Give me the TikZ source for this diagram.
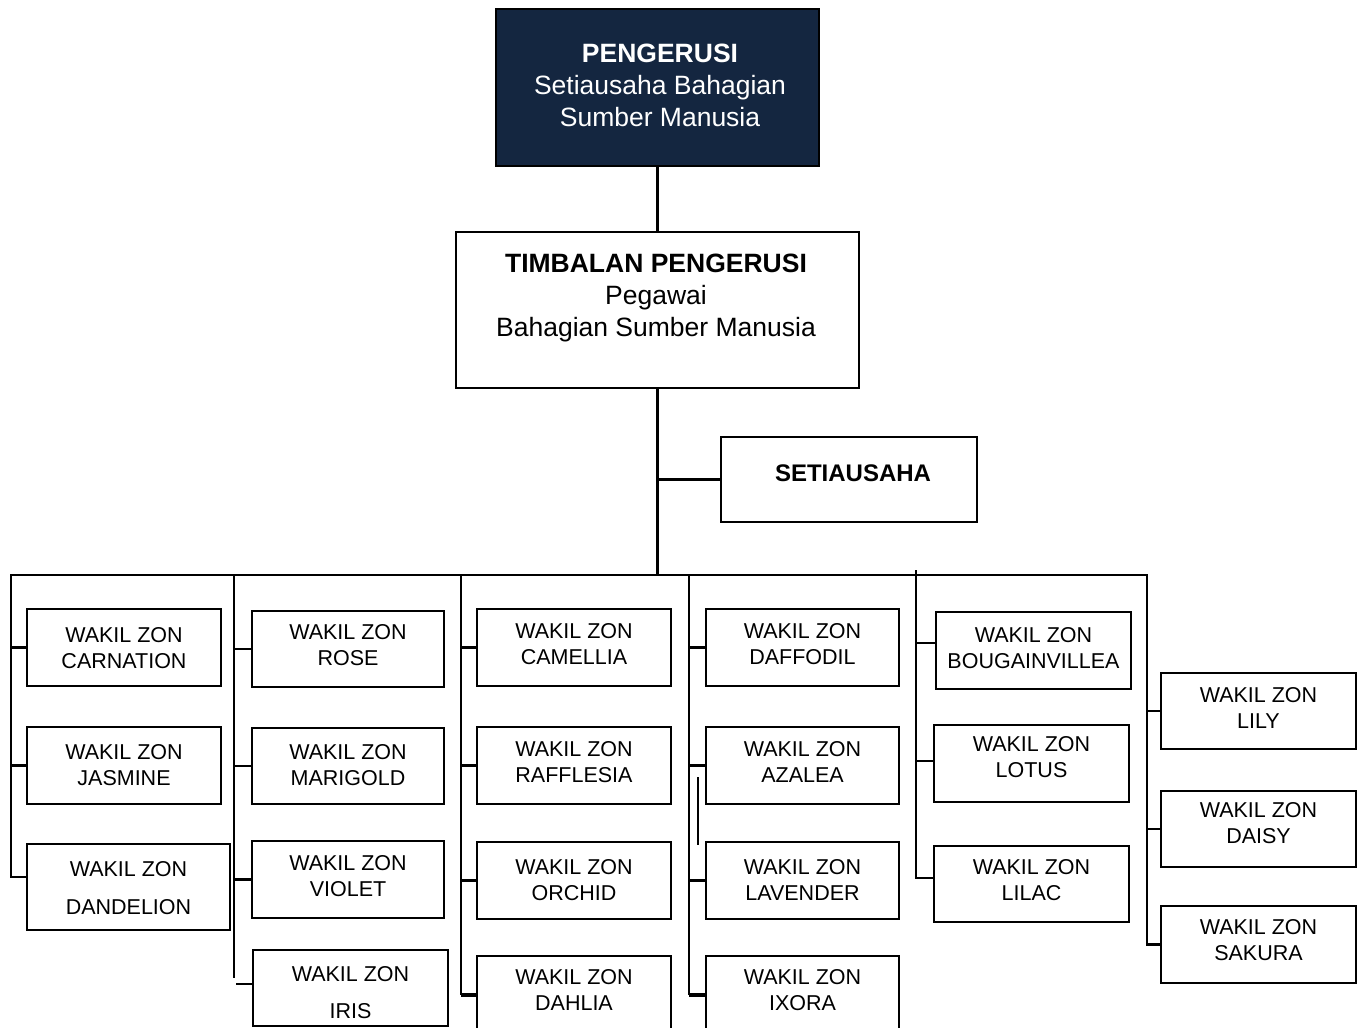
\documentclass[tikz,border=0pt]{standalone}
\usepackage{fontspec}
\setmainfont{Liberation Sans}
\definecolor{navy}{RGB}{20,38,64}
\tikzset{
  conn/.style={line width=2.6pt, black},
  zbox/.style={draw, black, line width=2.6pt, inner sep=0pt, outer sep=0pt},
  ztext/.style={align=center, font=\fontsize{21.5}{26}\selectfont, inner sep=0pt},
  htext/.style={align=center, font=\fontsize{26.5}{32}\selectfont, inner sep=0pt},
}
% zone box: name, left, top, right, bottom, text centre y, text
\newcommand\zonebox[7]{%
  \node[zbox, minimum width={(#4)-(#2)}, minimum height={(#5)-(#3)}]
    (#1) at ({((#2)+(#4))/2},{((#3)+(#5))/2}) {};
  \node[ztext] (#1-t) at ({((#2)+(#4))/2},#6) {#7};
}
\begin{document}
\begin{tikzpicture}[x=1pt, y=-1pt, line join=miter]
\clip (0,0) rectangle (1361,1028);
\fill[white] (0,0) rectangle (1361,1028);

% chairman, deputy and secretary
\node[zbox, fill=navy, minimum width=323, minimum height=157] (peng) at (657.5,87.5) {};
\node[htext, text=white] (peng-t) at (660,85) {\textbf{PENGERUSI}\\Setiausaha Bahagian\\Sumber Manusia};
\node[zbox, minimum width=403, minimum height=156] (tim) at (657.5,310) {};
\node[htext] (tim-t) at (656,297.8) {\textbf{TIMBALAN PENGERUSI}\\Pegawai\\Bahagian Sumber Manusia};
\node[zbox, minimum width=256, minimum height=85] (set) at (849,479.5) {};
\node[htext, font=\fontsize{24}{29}\selectfont\bfseries] (set-t) at (853,473) {SETIAUSAHA};

% zone representatives
\zonebox{carn}{27}{609}{221}{686}{648}{WAKIL ZON\\CARNATION}
\zonebox{jasm}{27}{727}{221}{804}{765}{WAKIL ZON\\JASMINE}
\zonebox{dand}{27}{844}{230}{930}{888}{WAKIL ZON\\[12pt]DANDELION}
\zonebox{rose}{252}{611}{444}{687}{645}{WAKIL ZON\\ROSE}
\zonebox{mari}{252}{728}{444}{804}{765}{WAKIL ZON\\MARIGOLD}
\zonebox{viol}{252}{841}{444}{918}{876}{WAKIL ZON\\VIOLET}
\zonebox{iris}{253}{950}{448}{1026}{993}{WAKIL ZON\\[11pt]IRIS}
\zonebox{came}{477}{609}{671}{686}{644}{WAKIL ZON\\CAMELLIA}
\zonebox{raff}{477}{727}{671}{804}{762}{WAKIL ZON\\RAFFLESIA}
\zonebox{orch}{477}{842}{671}{919}{880}{WAKIL ZON\\ORCHID}
\zonebox{dahl}{477}{956}{671}{1034}{990}{WAKIL ZON\\DAHLIA}
\zonebox{daff}{706}{609}{899}{686}{644}{WAKIL ZON\\DAFFODIL}
\zonebox{azal}{706}{727}{899}{804}{762}{WAKIL ZON\\AZALEA}
\zonebox{lave}{706}{842}{899}{919}{880}{WAKIL ZON\\LAVENDER}
\zonebox{ixor}{706}{956}{899}{1034}{990}{WAKIL ZON\\IXORA}
\zonebox{boug}{936}{612}{1131}{689}{648}{WAKIL ZON\\BOUGAINVILLEA}
\zonebox{lotu}{934}{725}{1129}{802}{757}{WAKIL ZON\\LOTUS}
\zonebox{lila}{934}{846}{1129}{922}{880}{WAKIL ZON\\LILAC}
\zonebox{lily}{1161}{673}{1356}{749}{708}{WAKIL ZON\\LILY}
\zonebox{dais}{1161}{791}{1356}{867}{823}{WAKIL ZON\\DAISY}
\zonebox{saku}{1161}{906}{1356}{983}{940}{WAKIL ZON\\SAKURA}

% bus and column coordinates
\coordinate (j0) at (657.5,575);
\coordinate (c1) at (11,575);    \coordinate (c1e) at (11,877);
\coordinate (c2) at (234,575);   \coordinate (c2e) at (234,978);
\coordinate (c3) at (461,575);   \coordinate (c3e) at (461,995);
\coordinate (c4) at (689,575);   \coordinate (c4e) at (689,995);
\coordinate (c5) at (916,570);   \coordinate (c5e) at (916,879);
\coordinate (c6) at (1147,575);  \coordinate (c6e) at (1147,944.5);
\coordinate (s1) at (698,777);   \coordinate (s2) at (698,845);

% upper connectors
\draw[conn] (peng.south) -- (tim.north);
\draw[conn] (tim.south) -- (j0);
\draw[conn] (set.west) -- (set.west -| j0);

% bus with the outer columns
\draw[conn] ([yshift=10pt]dand.west) -- (c1e) -- (c1) -- (c6) -- (c6e) -- (saku.west);
\draw[conn] (carn.west) -- (carn.west -| c1);
\draw[conn] (jasm.west) -- (jasm.west -| c1);
\draw[conn] (lily.west) -- (lily.west -| c6);
\draw[conn] (dais.west) -- (dais.west -| c6);

% column 2
\draw[conn] (c2) -- (c2e);
\draw[conn] (rose.west) -- (rose.west -| c2);
\draw[conn] (mari.west) -- (mari.west -| c2);
\draw[conn] (viol.west) -- (viol.west -| c2);
\draw[conn] ([yshift=4pt]iris.west) -- ++(-17,0);

% column 3
\draw[conn] (c3) -- (c3e);
\draw[conn] (came.west) -- (came.west -| c3);
\draw[conn] (raff.west) -- (raff.west -| c3);
\draw[conn] (orch.west) -- (orch.west -| c3);
\draw[conn, line width=4pt] (dahl.west) -- (c3e);

% column 4
\draw[conn] (c4) -- (c4e);
\draw[conn] (daff.west) -- (daff.west -| c4);
\draw[conn] (azal.west) -- (azal.west -| c4);
\draw[conn] (lave.west) -- (lave.west -| c4);
\draw[conn, line width=4pt] (ixor.west) -- (c4e);
\draw[conn, line width=2pt] (s1) -- (s2);

% column 5
\draw[conn] (c5) -- (c5e);
\draw[conn] ([yshift=7.5pt]boug.west) -- ([yshift=7.5pt]boug.west -| c5);
\draw[conn] ([yshift=2.5pt]lotu.west) -- ([yshift=2.5pt]lotu.west -| c5);
\draw[conn] ([yshift=6pt]lila.west) -- ([yshift=6pt]lila.west -| c5);
\end{tikzpicture}
\end{document}
